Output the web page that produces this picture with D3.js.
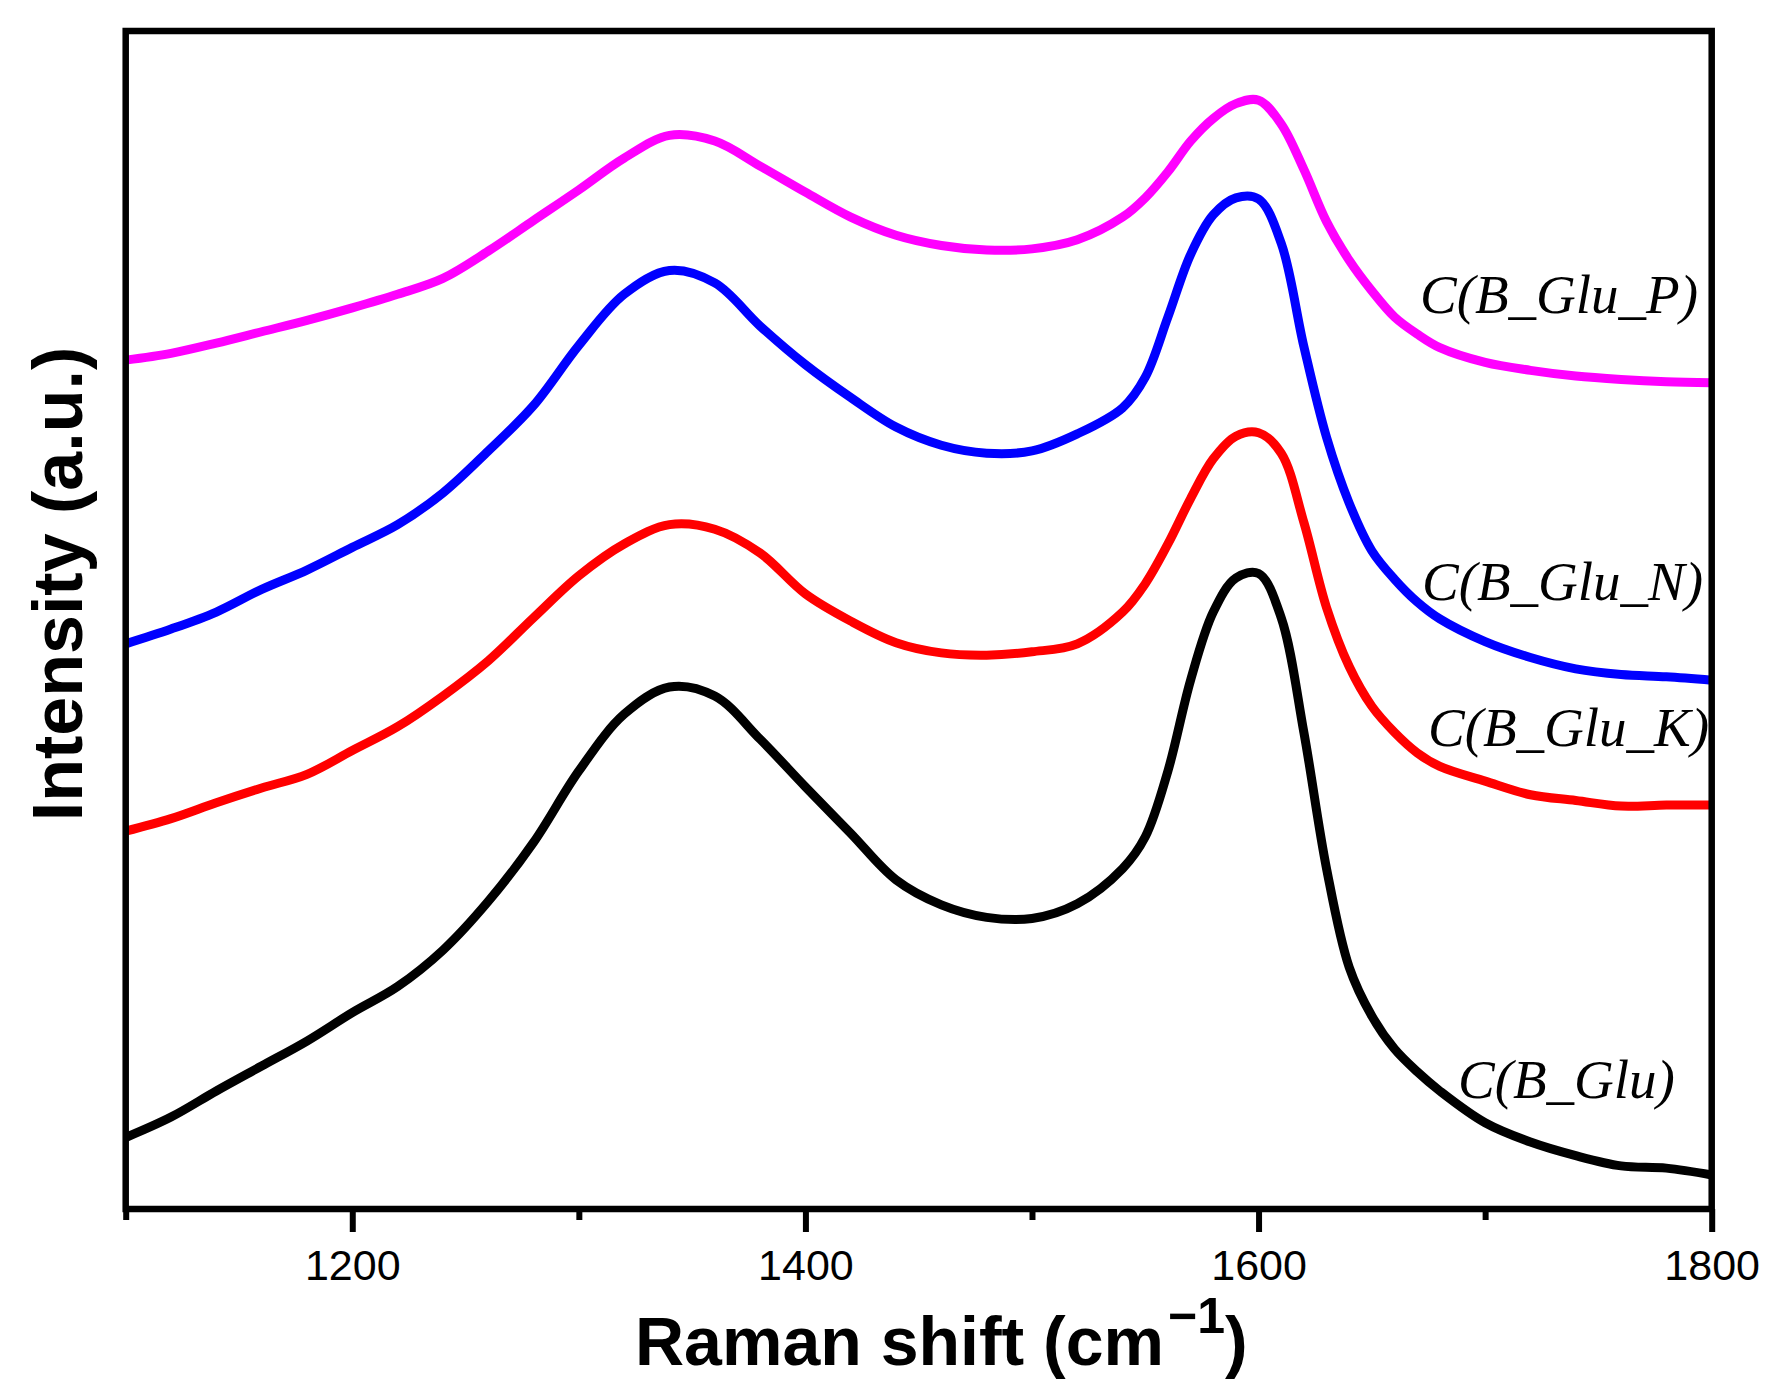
<!DOCTYPE html>
<html>
<head>
<meta charset="utf-8">
<script src="https://cdn.jsdelivr.net/npm/d3@7"></script>
<style>
  html, body { margin: 0; padding: 0; background: #fff; }
  svg { display: block; }
</style>
</head>
<body>
<svg id="chart" width="1783" height="1400"></svg>
<script>
// ---------- DATA ----------
const wavenumbers = [1100,1120,1140,1160,1180,1200,1220,1240,1260,1280,1300,1320,1340,1360,1380,1400,1420,1440,1460,1480,1500,1520,1540,1550,1560,1570,1580,1590,1600,1610,1620,1630,1640,1650,1660,1670,1680,1700,1720,1740,1760,1780,1800];

const seriesNames = ["C(B_Glu)", "C(B_Glu_K)", "C(B_Glu_N)", "C(B_Glu_P)"];
const seriesColors = ["#000000", "#FF0000", "#0000FF", "#FF00FF"];

const intensityGlu  = [63,81,104,126,148,173,196,228,271,323,386,436,460,452,414,372,331,290,268,257,256,269,300,328,386,466,526,556,560,521,420,300,213,170,141,121,104,76,59,47,38,36,30];
const intensityGluK = [333,344,358,371,383,404,425,452,483,521,558,586,603,599,578,542,518,499,490,488,491,498,526,551,586,626,661,681,684,666,605,530,478,443,420,402,390,377,365,360,355,356,356];
const intensityGluN = [498,511,526,546,563,583,603,631,668,708,761,806,827,816,778,744,715,689,673,666,668,683,706,733,786,841,876,891,890,851,760,680,622,580,555,535,520,500,486,476,471,469,466];
const intensityGluP = [748,754,763,773,783,794,806,820,844,871,898,926,946,941,919,896,874,858,849,845,846,854,874,891,914,941,961,974,977,956,916,870,836,809,786,771,759,746,739,734,731,729,728];

const seriesValues = [intensityGlu, intensityGluK, intensityGluN, intensityGluP];

const xDomain = [1100, 1800];
const yDomain = [0, 1038];
const majorTicks = [1200, 1400, 1600, 1800];
const minorTicks = [1100, 1300, 1500, 1700];

// ---------- LAYOUT ----------
const plotLeft = 125.7, plotRight = 1711.7, plotTop = 31, plotBottom = 1209;
const svg = d3.select("#chart");

const x = d3.scaleLinear().domain(xDomain).range([plotLeft, plotRight]);
const y = d3.scaleLinear().domain(yDomain).range([plotBottom, plotTop]);

const line = d3.line()
  .x((d) => x(d[0]))
  .y((d) => y(d[1]))
  .curve(d3.curveCatmullRom.alpha(0.5));

// curves
seriesValues.forEach((vals, i) => {
  const pts = wavenumbers.map((w, j) => [w, vals[j]]);
  svg.append("path")
    .datum(pts)
    .attr("d", line)
    .attr("fill", "none")
    .attr("stroke", seriesColors[i])
    .attr("stroke-width", 9)
    .attr("stroke-linejoin", "round")
    .attr("stroke-linecap", "butt");
});

// frame
svg.append("rect")
  .attr("x", plotLeft).attr("y", plotTop)
  .attr("width", plotRight - plotLeft).attr("height", plotBottom - plotTop)
  .attr("fill", "none").attr("stroke", "#000").attr("stroke-width", 6.5);

// bottom axis: major ticks with labels
const axisMajor = d3.axisBottom(x).tickValues(majorTicks).tickSize(23).tickPadding(17).tickFormat(d3.format("d"));
const gMajor = svg.append("g").attr("transform", `translate(0,${plotBottom})`).call(axisMajor);
gMajor.select(".domain").remove();
gMajor.selectAll(".tick line").attr("stroke", "#000").attr("stroke-width", 6);
gMajor.selectAll(".tick text")
  .attr("font-family", "'Liberation Sans', Arial, sans-serif")
  .attr("font-size", 43)
  .attr("fill", "#000");

// minor ticks
const axisMinor = d3.axisBottom(x).tickValues(minorTicks).tickSize(11).tickFormat("");
const gMinor = svg.append("g").attr("transform", `translate(0,${plotBottom})`).call(axisMinor);
gMinor.select(".domain").remove();
gMinor.selectAll(".tick line").attr("stroke", "#000").attr("stroke-width", 6);

// x title
const xt = svg.append("text")
  .attr("x", 635).attr("y", 1365)
  .attr("font-family", "'Liberation Sans', Arial, sans-serif")
  .attr("font-weight", "bold")
  .attr("font-size", 68)
  .attr("fill", "#000");
xt.append("tspan").text("Raman shift (cm");
xt.append("tspan").attr("font-size", 50).attr("dy", -32).attr("dx", 4).text("\u22121");
xt.append("tspan").attr("dy", 32).text(")");

// y title
svg.append("text")
  .attr("transform", "translate(82,584) rotate(-90)")
  .attr("text-anchor", "middle")
  .attr("font-family", "'Liberation Sans', Arial, sans-serif")
  .attr("font-weight", "bold")
  .attr("font-size", 70)
  .attr("fill", "#000")
  .text("Intensity (a.u.)");

// series labels
const labelPos = [[1458, 1098], [1428, 746], [1422, 600], [1420, 313]];
seriesNames.forEach((t, i) => {
  svg.append("text")
    .attr("x", labelPos[i][0]).attr("y", labelPos[i][1])
    .attr("font-family", "'Liberation Serif', 'Times New Roman', serif")
    .attr("font-style", "italic")
    .attr("font-size", 55)
    .attr("fill", "#000")
    .text(t);
});
</script>
</body>
</html>
